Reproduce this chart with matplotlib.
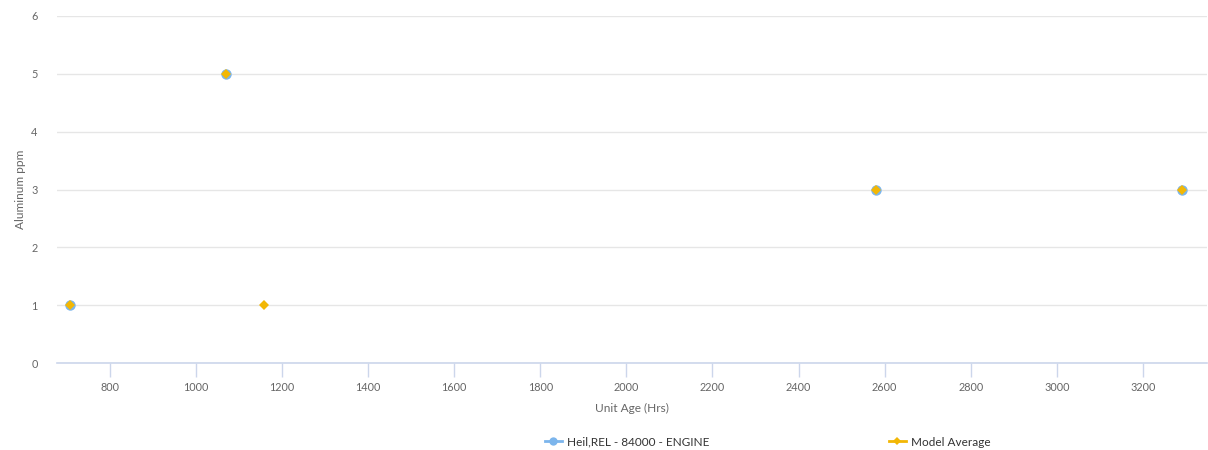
import matplotlib
matplotlib.use("Agg")
import matplotlib.pyplot as plt
from matplotlib.lines import Line2D

plt.rcParams['font.family'] = ['Lato', 'DejaVu Sans']

# Data
heil_x = [707, 1070, 2581, 3290]
heil_y = [1, 5, 3, 3]
avg_x = [707, 1070, 1158, 2581, 3290]
avg_y = [1, 5, 1, 3, 3]
x_ticks = [800, 1000, 1200, 1400, 1600, 1800, 2000, 2200, 2400, 2600, 2800, 3000, 3200]
y_ticks = [0, 1, 2, 3, 4, 5, 6]
series_names = ["Heil,REL - 84000 - ENGINE", "Model Average"]

blue = "#7cb5ec"
gold = "#f2b705"
text_c = "#666666"

fig = plt.figure(figsize=(12.08, 4.5), dpi=100)
ax = fig.add_axes([57/1208, 1 - 363/450, 1150/1208, 347/450])

ax.plot(heil_x, heil_y, linestyle='none', marker='o', markersize=7.5,
        color=blue, markeredgewidth=0, zorder=3)
ax.plot(avg_x, avg_y, linestyle='none', marker='D', markersize=5.2,
        color=gold, markeredgewidth=0, zorder=4)

ax.set_xlim(677, 3349)
ax.set_ylim(0, 6)
ax.set_xticks(x_ticks)
ax.set_yticks(y_ticks)
ax.set_xticklabels([str(t) for t in x_ticks])
ax.set_yticklabels([str(t) for t in y_ticks])
ax.tick_params(axis='x', length=10, width=1, color="#ccd6eb", labelcolor=text_c,
               labelsize=7.8, pad=4)
ax.tick_params(axis='y', length=0, labelsize=7.8, labelcolor=text_c, pad=14)

ax.grid(axis='y', color="#e6e6e6", linewidth=1)
ax.set_axisbelow(True)
for s in ['top', 'right', 'left']:
    ax.spines[s].set_visible(False)
ax.spines['bottom'].set_color("#ccd6eb")
ax.spines['bottom'].set_linewidth(1.2)

ax.set_xlabel("Unit Age (Hrs)", fontsize=8.6, color=text_c, labelpad=7)
ax.set_ylabel("Aluminum ppm", fontsize=8.6, color=text_c, labelpad=4)

handles = [
    Line2D([0], [0], color=blue, linewidth=2, marker='o', markersize=6, markeredgewidth=0),
    Line2D([0], [0], color=gold, linewidth=2, marker='D', markersize=4.5, markeredgewidth=0),
]
fig.legend(handles, series_names, loc='center left', bbox_to_anchor=(534/1208, 1 - 442/450),
           ncol=2, frameon=False, fontsize=8.5, labelcolor="#333333",
           handlelength=1.45, handletextpad=0.45, columnspacing=15.2)

fig.savefig("out.png", dpi=100, facecolor="white")
